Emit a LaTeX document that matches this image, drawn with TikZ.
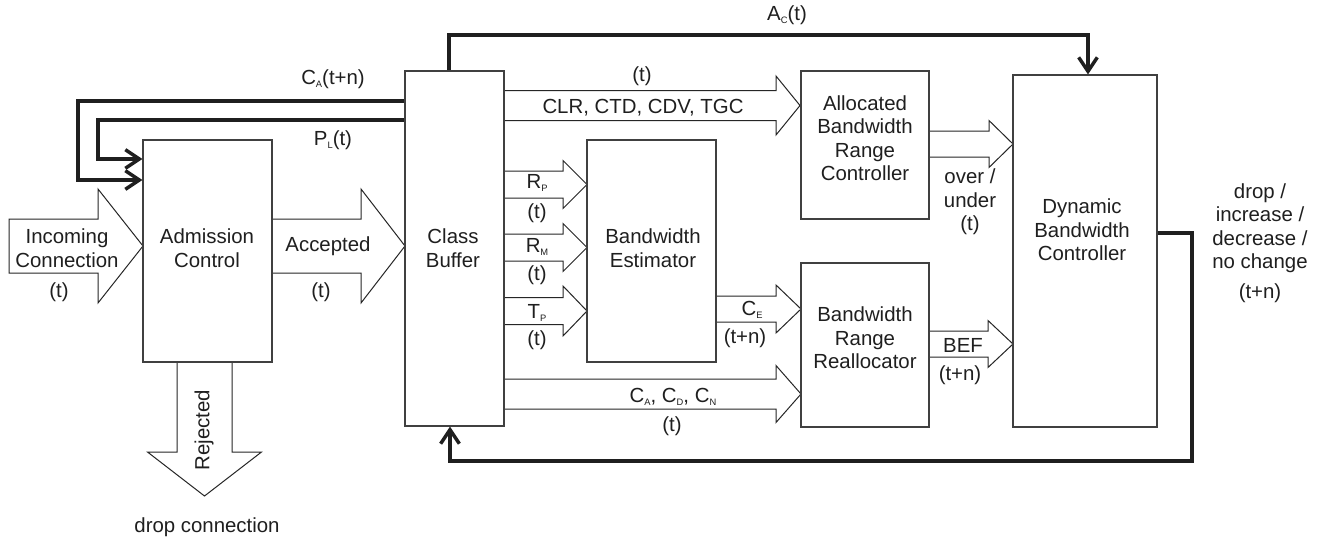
\documentclass[tikz,border=0pt]{standalone}
\usepackage{fontspec}
\setmainfont{Liberation Sans}
\usetikzlibrary{arrows.meta}
\newcommand\lsub[1]{\raisebox{-2.2pt}{\fontsize{7}{7}\selectfont #1}}
% horizontal block arrow: x-start, x-head, x-tip, y-centre, shaft half, head half
\newcommand\blkh[6]{\draw[blk] (#1,#4-#5) -- (#2,#4-#5) -- (#2,#4-#6) -- (#3,#4) -- (#2,#4+#6) -- (#2,#4+#5) -- (#1,#4+#5);}
\tikzset{
  box/.style={draw=black!75, line width=0.85pt, fill=white, inner sep=0pt},
  blk/.style={draw=black!85, line width=0.75pt, fill=white, line join=miter},
  thk/.style={draw=black!88, line width=2.6pt, -{Straight Barb[length=10.5pt,width=14pt]}},
  txt/.style={align=center, font=\fontsize{15.3}{17.6}\selectfont, text=black!88, inner sep=0pt},
}
\begin{document}
\begin{tikzpicture}[x=0.75pt,y=-0.75pt]
\useasboundingbox[fill=white] (0,0) rectangle (1322,540);

% ---- block arrows ----
\draw[blk] (9,246-27) -- (98,246-27) -- (98,246-57) -- (143,246) -- (98,246+57) -- (98,246+27) -- (9,246+27) -- cycle;
\blkh{272}{361}{405}{246}{27}{57}
\blkh{504}{776}{800}{105.5}{15}{29.5}
\blkh{504}{563}{587}{184.5}{13.5}{24}
\blkh{504}{563}{587}{247.5}{13.5}{24}
\blkh{504}{563}{587}{311}{13.5}{25}
\blkh{716}{776}{801}{309}{13}{24}
\blkh{504}{776}{801}{394}{15}{28.5}
\blkh{929}{989}{1013}{144}{13}{23.5}
\blkh{929}{988}{1013}{344}{13}{23.5}
\draw[blk] (204.5-27.5,362) -- (204.5-27.5,452) -- (204.5-57,452) -- (204.5,496) -- (204.5+57,452) -- (204.5+27.5,452) -- (204.5+27.5,362);

% ---- boxes ----
\node[box, minimum width=129*0.75pt, minimum height=222*0.75pt] (ac) at (207.5,251) {};
\node[box, minimum width=99*0.75pt, minimum height=355*0.75pt] (cb) at (454.5,248.5) {};
\node[box, minimum width=129*0.75pt, minimum height=222*0.75pt] (be) at (651.5,251) {};
\node[box, minimum width=128*0.75pt, minimum height=148*0.75pt] (abrc) at (865,145) {};
\node[box, minimum width=128*0.75pt, minimum height=164*0.75pt] (brr) at (865,345) {};
\node[box, minimum width=144*0.75pt, minimum height=352*0.75pt] (dbc) at (1085,251) {};

% ---- box texts ----
\node[txt] (tac) at (207,248) {Admission\\Control};
\node[txt] (tcb) at (453,248) {Class\\Buffer};
\node[txt] (tbe) at (653,248) {Bandwidth\\Estimator};
\node[txt] (tabrc) at (865,138) {Allocated\\Bandwidth\\Range\\Controller};
\node[txt] (tbrr) at (865,338) {Bandwidth\\Range\\Reallocator};
\node[txt] (tdbc) at (1082,230) {Dynamic\\Bandwidth\\Controller};

% ---- arrow labels ----
\node[txt] (tin) at (67,248) {Incoming\\Connection};
\node[txt] (tin2) at (59,292) {(t)};
\node[txt] (tacc) at (328,246) {Accepted};
\node[txt] (tacc2) at (321,292) {(t)};
\node[txt, rotate=90] (trej) at (204,430) {Rejected};
\node[txt] (tdrop) at (207,527) {drop connection};
\node[txt] (tca) at (333,79) {C\lsub{A}(t+n)};
\node[txt] (tpl) at (333,140) {P\lsub{L}(t)};
\node[txt] (tac2) at (787,15) {A\lsub{C}(t)};
\node[txt] (tclr1) at (642,76) {(t)};
\node[txt] (tclr) at (643,108) {CLR, CTD, CDV, TGC};
\node[txt] (trp) at (537,183) {R\lsub{P}};
\node[txt] (trp2) at (537,213) {(t)};
\node[txt] (trm) at (537,247) {R\lsub{M}};
\node[txt] (trm2) at (537,275) {(t)};
\node[txt] (ttp) at (537,313) {T\lsub{P}};
\node[txt] (ttp2) at (537,340) {(t)};
\node[txt] (tce) at (752,310) {C\lsub{E}};
\node[txt] (tce2) at (745,338) {(t+n)};
\node[txt] (tcacd) at (673,397) {C\lsub{A}, C\lsub{D}, C\lsub{N}};
\node[txt] (tcacd2) at (672,426) {(t)};
\node[txt] (tover) at (970,202) {over /\\under\\(t)};
\node[txt] (tbef) at (963,345) {BEF};
\node[txt] (tbef2) at (960,375) {(t+n)};
\node[txt] (tout) at (1260,228) {drop /\\increase /\\decrease /\\no change};
\node[txt] (tout2) at (1260,293) {(t+n)};

% ---- thick feedback connectors ----
\draw[thk] (cb.west |- 0,101) -| (78,180) -- (ac.west |- 0,180);
\draw[thk] (cb.west |- 0,120) -| (98,159) -- (ac.west |- 0,159);
\draw[thk] (cb.north -| 449,0) |- (1088,35) -- (dbc.north -| 1088,0);
\draw[thk] (dbc.east |- 0,233) -| (1192,461) -| (cb.south -| 450,0);
\end{tikzpicture}
\end{document}
